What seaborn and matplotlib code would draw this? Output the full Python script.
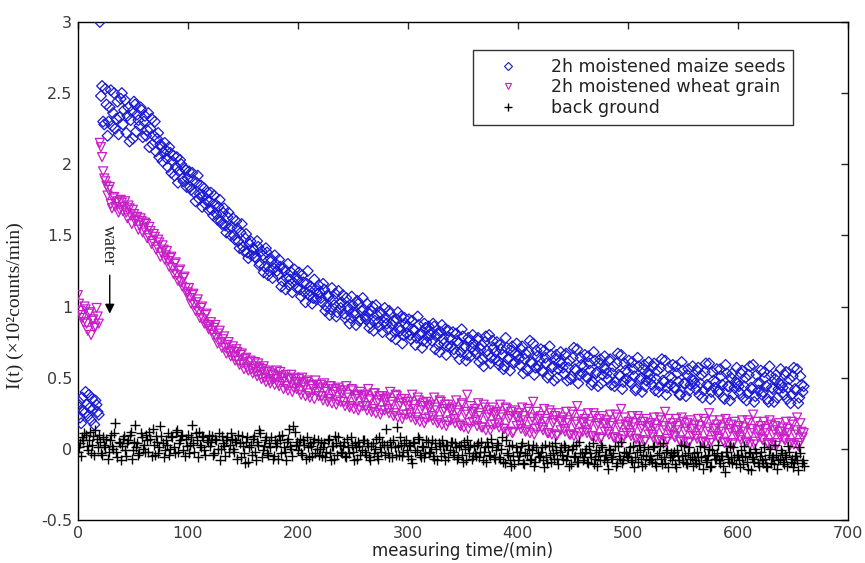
import numpy as np
import pandas as pd
import matplotlib
matplotlib.use("Agg")
import matplotlib.pyplot as plt
from matplotlib.lines import Line2D
from matplotlib.ticker import FormatStrFormatter
import seaborn as sns

# ---------------- data -------------
# readings at even minutes (0, 2, ..., 660) and odd minutes (1, 3, ..., 659)
time_even = list(range(0, 661, 2))
time_odd = list(range(1, 660, 2))

maize_even = [
    0.30, 0.22, 0.36, 0.25, 0.31, 0.38, 0.20, 0.28, 0.34, 0.26,
    3.00, 2.55, 2.28, 2.42, 2.30, 2.52, 2.36, 2.25, 2.44, 2.33,
    2.50, 2.38, 2.22, 2.40, 2.31, 2.18, 2.42, 2.35, 2.27, 2.38,
    2.30, 2.20, 2.36, 2.25, 2.14, 2.30, 2.18, 2.05, 2.12, 2.08,
    2.10, 1.98, 2.08, 2.02, 1.92, 2.05, 1.95, 2.00, 1.88, 1.96,
    1.90, 1.84, 1.94, 1.80, 1.87, 1.76, 1.85, 1.78, 1.72, 1.80,
    1.74, 1.68, 1.78, 1.65, 1.70, 1.60, 1.66, 1.57, 1.63, 1.55,
    1.56, 1.50, 1.60, 1.46, 1.52, 1.42, 1.48, 1.38, 1.44, 1.36,
    1.40, 1.34, 1.42, 1.30, 1.36, 1.28, 1.38, 1.25, 1.32, 1.27,
    1.30, 1.22, 1.28, 1.18, 1.25, 1.20, 1.15, 1.24, 1.17, 1.21,
    1.19, 1.12, 1.22, 1.10, 1.16, 1.08, 1.14, 1.06, 1.12, 1.09,
    1.10, 1.03, 1.12, 1.00, 1.07, 0.98, 1.05, 1.09, 0.96, 1.02,
    1.03, 0.95, 1.06, 0.98, 0.92, 1.01, 0.94, 1.04, 0.90, 0.97,
    0.98, 0.91, 0.96, 0.88, 1.00, 0.90, 0.94, 0.86, 0.95, 0.89,
    0.92, 0.84, 0.95, 0.87, 0.82, 0.91, 0.85, 0.93, 0.80, 0.88,
    0.86, 0.80, 0.90, 0.83, 0.78, 0.87, 0.81, 0.76, 0.85, 0.79,
    0.83, 0.76, 0.86, 0.79, 0.73, 0.82, 0.77, 0.84, 0.72, 0.78,
    0.77, 0.70, 0.81, 0.74, 0.68, 0.79, 0.72, 0.66, 0.76, 0.71,
    0.74, 0.67, 0.78, 0.70, 0.63, 0.75, 0.69, 0.80, 0.64, 0.71,
    0.68, 0.62, 0.73, 0.66, 0.58, 0.71, 0.64, 0.69, 0.60, 0.67,
    0.66, 0.59, 0.72, 0.63, 0.56, 0.68, 0.61, 0.74, 0.57, 0.65,
    0.62, 0.55, 0.69, 0.60, 0.52, 0.66, 0.58, 0.63, 0.50, 0.61,
    0.60, 0.53, 0.67, 0.57, 0.49, 0.64, 0.56, 0.70, 0.52, 0.59,
    0.58, 0.51, 0.65, 0.55, 0.47, 0.62, 0.54, 0.60, 0.46, 0.57,
    0.56, 0.49, 0.63, 0.53, 0.44, 0.60, 0.52, 0.66, 0.47, 0.55,
    0.54, 0.47, 0.61, 0.51, 0.42, 0.58, 0.50, 0.56, 0.44, 0.53,
    0.52, 0.45, 0.60, 0.49, 0.40, 0.57, 0.48, 0.62, 0.43, 0.51,
    0.50, 0.43, 0.58, 0.47, 0.38, 0.55, 0.46, 0.52, 0.41, 0.49,
    0.48, 0.42, 0.57, 0.46, 0.36, 0.54, 0.45, 0.60, 0.40, 0.48,
    0.47, 0.40, 0.56, 0.45, 0.35, 0.53, 0.44, 0.50, 0.38, 0.47,
    0.46, 0.39, 0.55, 0.44, 0.34, 0.52, 0.43, 0.59, 0.37, 0.46,
    0.46, 0.38, 0.54, 0.44, 0.33, 0.51, 0.42, 0.49, 0.36, 0.46,
    0.45, 0.38, 0.54, 0.43, 0.32, 0.51, 0.42, 0.56, 0.36, 0.45,
    0.44,
]
maize_odd = [
    0.33, 0.18, 0.27, 0.40, 0.23, 0.29, 0.35, 0.17, 0.31, 0.24,
    2.48, 2.30, 2.53, 2.20, 2.40, 2.27, 2.50, 2.32, 2.21, 2.46,
    2.28, 2.45, 2.34, 2.16, 2.37, 2.44, 2.23, 2.31, 2.40, 2.19,
    2.34, 2.24, 2.12, 2.32, 2.20, 2.09, 2.22, 2.14, 2.02, 2.15,
    2.04, 2.12, 1.94, 2.06, 1.98, 1.87, 2.03, 1.90, 1.97, 1.84,
    1.95, 1.82, 1.89, 1.74, 1.92, 1.79, 1.70, 1.83, 1.75, 1.68,
    1.80, 1.64, 1.72, 1.61, 1.75, 1.58, 1.69, 1.52, 1.66, 1.50,
    1.62, 1.47, 1.55, 1.41, 1.58, 1.39, 1.51, 1.34, 1.46, 1.41,
    1.35, 1.46, 1.29, 1.39, 1.24, 1.41, 1.22, 1.34, 1.20, 1.36,
    1.25, 1.33, 1.14, 1.27, 1.12, 1.30, 1.19, 1.10, 1.26, 1.13,
    1.24, 1.07, 1.17, 1.03, 1.25, 1.11, 1.02, 1.19, 1.05, 1.15,
    1.06, 1.16, 0.97, 1.08, 0.94, 1.13, 1.01, 0.93, 1.11, 0.99,
    1.08, 0.92, 1.00, 0.88, 1.07, 0.96, 0.87, 1.02, 0.91, 1.06,
    0.93, 1.02, 0.85, 0.97, 0.83, 1.01, 0.89, 0.96, 0.82, 0.99,
    0.88, 0.97, 0.79, 0.90, 0.77, 0.96, 0.83, 0.74, 0.92, 0.81,
    0.91, 0.77, 0.84, 0.73, 0.93, 0.80, 0.71, 0.88, 0.75, 0.86,
    0.80, 0.88, 0.70, 0.81, 0.68, 0.87, 0.74, 0.66, 0.83, 0.72,
    0.82, 0.67, 0.76, 0.63, 0.84, 0.71, 0.62, 0.78, 0.65, 0.80,
    0.69, 0.77, 0.61, 0.73, 0.58, 0.79, 0.66, 0.60, 0.76, 0.63,
    0.75, 0.59, 0.70, 0.56, 0.78, 0.63, 0.55, 0.72, 0.61, 0.74,
    0.63, 0.70, 0.53, 0.67, 0.55, 0.76, 0.60, 0.52, 0.69, 0.58,
    0.70, 0.54, 0.64, 0.50, 0.72, 0.57, 0.48, 0.66, 0.56, 0.68,
    0.57, 0.66, 0.48, 0.62, 0.51, 0.71, 0.55, 0.46, 0.64, 0.53,
    0.66, 0.50, 0.60, 0.45, 0.68, 0.53, 0.44, 0.63, 0.52, 0.65,
    0.53, 0.62, 0.45, 0.58, 0.47, 0.67, 0.51, 0.42, 0.60, 0.49,
    0.62, 0.46, 0.56, 0.41, 0.64, 0.49, 0.40, 0.59, 0.48, 0.61,
    0.49, 0.58, 0.41, 0.55, 0.44, 0.63, 0.47, 0.38, 0.57, 0.45,
    0.59, 0.43, 0.53, 0.38, 0.61, 0.46, 0.37, 0.56, 0.45, 0.58,
    0.46, 0.55, 0.38, 0.52, 0.41, 0.60, 0.44, 0.35, 0.54, 0.43,
    0.56, 0.41, 0.51, 0.36, 0.59, 0.44, 0.34, 0.53, 0.43, 0.57,
    0.44, 0.53, 0.36, 0.50, 0.39, 0.58, 0.42, 0.33, 0.52, 0.41,
    0.55, 0.40, 0.50, 0.35, 0.58, 0.43, 0.33, 0.52, 0.42, 0.56,
    0.43, 0.52, 0.35, 0.49, 0.38, 0.57, 0.41, 0.32, 0.51, 0.40,
]

wheat_even = [
    1.08, 0.97, 0.92, 1.00, 0.88, 0.95, 0.80, 0.91, 0.86, 0.93,
    2.15, 2.05, 1.90, 1.85, 1.82, 1.72, 1.76, 1.70, 1.74, 1.68,
    1.73, 1.70, 1.66, 1.71, 1.64, 1.68, 1.60, 1.63, 1.57, 1.60,
    1.55, 1.58, 1.50, 1.53, 1.46, 1.49, 1.42, 1.45, 1.38, 1.40,
    1.36, 1.32, 1.34, 1.27, 1.30, 1.22, 1.25, 1.17, 1.20, 1.13,
    1.10, 1.06, 1.08, 1.01, 1.03, 0.96, 0.99, 0.91, 0.94, 0.87,
    0.86, 0.83, 0.85, 0.78, 0.81, 0.75, 0.77, 0.71, 0.73, 0.68,
    0.69, 0.65, 0.70, 0.62, 0.66, 0.60, 0.63, 0.57, 0.61, 0.56,
    0.58, 0.54, 0.60, 0.52, 0.56, 0.50, 0.54, 0.48, 0.53, 0.49,
    0.51, 0.46, 0.54, 0.47, 0.50, 0.44, 0.49, 0.52, 0.43, 0.47,
    0.46, 0.41, 0.50, 0.43, 0.47, 0.39, 0.45, 0.42, 0.48, 0.40,
    0.43, 0.37, 0.46, 0.40, 0.35, 0.44, 0.38, 0.42, 0.34, 0.41,
    0.39, 0.33, 0.44, 0.36, 0.30, 0.41, 0.35, 0.38, 0.29, 0.37,
    0.36, 0.30, 0.42, 0.34, 0.28, 0.39, 0.32, 0.37, 0.27, 0.35,
    0.34, 0.28, 0.40, 0.31, 0.25, 0.37, 0.30, 0.35, 0.24, 0.33,
    0.30, 0.25, 0.38, 0.28, 0.22, 0.34, 0.27, 0.32, 0.21, 0.30,
    0.29, 0.23, 0.36, 0.27, 0.20, 0.33, 0.26, 0.31, 0.19, 0.28,
    0.27, 0.21, 0.34, 0.25, 0.16, 0.31, 0.24, 0.38, 0.18, 0.26,
    0.26, 0.20, 0.32, 0.23, 0.15, 0.29, 0.22, 0.27, 0.17, 0.25,
    0.24, 0.18, 0.31, 0.22, 0.14, 0.28, 0.21, 0.26, 0.12, 0.23,
    0.22, 0.17, 0.29, 0.20, 0.13, 0.26, 0.19, 0.33, 0.14, 0.21,
    0.21, 0.15, 0.28, 0.19, 0.11, 0.25, 0.18, 0.23, 0.10, 0.20,
    0.19, 0.14, 0.26, 0.18, 0.10, 0.24, 0.17, 0.30, 0.11, 0.19,
    0.18, 0.13, 0.25, 0.17, 0.09, 0.23, 0.16, 0.21, 0.08, 0.18,
    0.17, 0.12, 0.24, 0.16, 0.08, 0.22, 0.15, 0.28, 0.09, 0.17,
    0.16, 0.11, 0.23, 0.15, 0.07, 0.21, 0.14, 0.19, 0.06, 0.16,
    0.15, 0.10, 0.22, 0.14, 0.06, 0.20, 0.13, 0.26, 0.07, 0.15,
    0.15, 0.09, 0.21, 0.13, 0.05, 0.19, 0.12, 0.18, 0.05, 0.14,
    0.14, 0.09, 0.21, 0.13, 0.05, 0.19, 0.12, 0.25, 0.06, 0.14,
    0.14, 0.08, 0.20, 0.12, 0.04, 0.18, 0.11, 0.17, 0.04, 0.13,
    0.13, 0.08, 0.20, 0.12, 0.04, 0.18, 0.11, 0.24, 0.05, 0.13,
    0.13, 0.07, 0.19, 0.11, 0.03, 0.17, 0.10, 0.16, 0.04, 0.12,
    0.12, 0.07, 0.19, 0.11, 0.03, 0.17, 0.10, 0.22, 0.04, 0.12,
    0.11,
]
wheat_odd = [
    1.02, 0.94, 0.89, 0.98, 0.83, 0.96, 0.90, 0.85, 0.99, 0.88,
    2.12, 1.95, 1.88, 1.78, 1.84, 1.69, 1.77, 1.73, 1.66, 1.75,
    1.67, 1.74, 1.62, 1.69, 1.58, 1.65, 1.61, 1.54, 1.62, 1.52,
    1.59, 1.48, 1.56, 1.44, 1.51, 1.40, 1.47, 1.35, 1.43, 1.33,
    1.39, 1.28, 1.35, 1.23, 1.31, 1.18, 1.26, 1.14, 1.21, 1.09,
    1.13, 1.02, 1.09, 0.97, 1.05, 0.92, 1.00, 0.88, 0.95, 0.84,
    0.89, 0.80, 0.87, 0.74, 0.83, 0.71, 0.79, 0.67, 0.75, 0.65,
    0.72, 0.62, 0.68, 0.59, 0.67, 0.56, 0.64, 0.55, 0.62, 0.53,
    0.61, 0.51, 0.57, 0.49, 0.58, 0.47, 0.55, 0.46, 0.52, 0.45,
    0.55, 0.44, 0.51, 0.42, 0.52, 0.41, 0.49, 0.40, 0.50, 0.42,
    0.49, 0.38, 0.46, 0.37, 0.48, 0.36, 0.44, 0.35, 0.45, 0.37,
    0.45, 0.34, 0.42, 0.33, 0.44, 0.32, 0.40, 0.31, 0.43, 0.33,
    0.41, 0.30, 0.38, 0.29, 0.42, 0.28, 0.37, 0.27, 0.40, 0.30,
    0.38, 0.27, 0.35, 0.26, 0.39, 0.25, 0.34, 0.24, 0.37, 0.27,
    0.36, 0.25, 0.33, 0.23, 0.38, 0.22, 0.32, 0.21, 0.35, 0.24,
    0.33, 0.22, 0.31, 0.20, 0.36, 0.19, 0.30, 0.18, 0.33, 0.22,
    0.31, 0.20, 0.29, 0.18, 0.34, 0.17, 0.28, 0.16, 0.31, 0.20,
    0.29, 0.18, 0.27, 0.17, 0.32, 0.15, 0.26, 0.14, 0.30, 0.19,
    0.28, 0.16, 0.25, 0.15, 0.31, 0.13, 0.24, 0.13, 0.29, 0.17,
    0.26, 0.15, 0.24, 0.14, 0.29, 0.12, 0.23, 0.11, 0.27, 0.16,
    0.25, 0.14, 0.23, 0.12, 0.28, 0.11, 0.22, 0.10, 0.26, 0.15,
    0.23, 0.13, 0.21, 0.11, 0.27, 0.10, 0.20, 0.09, 0.25, 0.13,
    0.22, 0.12, 0.20, 0.10, 0.26, 0.09, 0.19, 0.08, 0.24, 0.12,
    0.21, 0.11, 0.19, 0.09, 0.25, 0.08, 0.18, 0.07, 0.23, 0.12,
    0.20, 0.10, 0.18, 0.08, 0.24, 0.07, 0.17, 0.06, 0.22, 0.11,
    0.19, 0.09, 0.18, 0.07, 0.23, 0.06, 0.16, 0.05, 0.21, 0.10,
    0.18, 0.08, 0.17, 0.06, 0.22, 0.05, 0.16, 0.05, 0.21, 0.10,
    0.18, 0.08, 0.16, 0.06, 0.22, 0.05, 0.15, 0.04, 0.20, 0.09,
    0.17, 0.07, 0.16, 0.05, 0.21, 0.04, 0.15, 0.04, 0.20, 0.09,
    0.17, 0.07, 0.15, 0.05, 0.21, 0.04, 0.14, 0.03, 0.19, 0.09,
    0.16, 0.06, 0.15, 0.05, 0.20, 0.03, 0.14, 0.03, 0.19, 0.08,
    0.16, 0.06, 0.14, 0.04, 0.20, 0.03, 0.13, 0.02, 0.18, 0.08,
    0.15, 0.06, 0.14, 0.04, 0.19, 0.03, 0.13, 0.02, 0.18, 0.08,
]

background_even = [
    -0.02, 0.04, 0.08, 0.11, 0.02, 0.06, -0.03, 0.09, 0.13, 0.01,
    0.05, -0.04, 0.03, 0.07, -0.02, 0.10, 0.00, 0.18, -0.06, 0.04,
    0.02, 0.09, -0.05, 0.06, 0.12, -0.01, 0.17, 0.04, -0.03, 0.08,
    0.03, 0.10, -0.02, 0.07, 0.14, -0.04, 0.05, 0.01, 0.09, -0.06,
    0.06, 0.11, 0.00, 0.08, -0.03, 0.13, 0.04, 0.09, -0.01, 0.07,
    0.10, 0.03, 0.17, -0.02, 0.06, 0.12, 0.01, 0.08, -0.04, 0.05,
    0.02, 0.09, -0.03, 0.06, 0.11, 0.00, 0.04, -0.05, 0.08, 0.03,
    0.07, -0.02, 0.05, 0.10, -0.06, 0.02, -0.10, 0.08, 0.01, -0.04,
    0.09, -0.08, 0.03, 0.11, -0.01, 0.06, -0.03, 0.04, 0.08, -0.05,
    0.02, -0.07, 0.06, 0.10, -0.02, 0.05, 0.14, 0.00, 0.16, 0.03,
    -0.01, 0.07, -0.04, 0.03, 0.08, -0.06, 0.02, 0.05, -0.03, 0.06,
    0.00, -0.05, 0.04, -0.02, 0.07, -0.08, 0.02, 0.09, -0.04, 0.03,
    -0.03, 0.05, -0.06, 0.01, 0.08, -0.02, 0.04, -0.07, 0.02, -0.01,
    0.06, -0.04, 0.02, -0.08, 0.04, 0.00, -0.05, 0.08, -0.02, 0.03,
    0.14, -0.03, 0.05, -0.06, 0.01, 0.15, -0.04, 0.03, -0.02, 0.06,
    -0.05, 0.02, -0.10, 0.04, -0.01, 0.07, -0.06, 0.01, -0.03, 0.05,
    -0.02, 0.06, -0.07, 0.00, 0.04, -0.05, 0.02, -0.08, 0.03, -0.01,
    0.05, -0.04, 0.01, -0.06, 0.03, -0.09, 0.00, 0.06, -0.03, -0.07,
    0.02, -0.05, 0.04, -0.02, -0.08, 0.01, 0.05, -0.04, 0.07, -0.06,
    -0.01, 0.03, -0.07, 0.08, -0.10, -0.03, 0.02, -0.12, -0.05, 0.01,
    -0.08, -0.02, 0.04, -0.11, -0.04, 0.00, -0.07, 0.03, -0.09, -0.03,
    -0.05, 0.01, -0.13, -0.06, 0.02, -0.09, -0.03, 0.04, -0.07, -0.02,
    -0.04, 0.03, -0.08, -0.01, -0.11, 0.02, -0.05, -0.09, 0.05, -0.03,
    -0.06, 0.00, -0.10, -0.03, 0.04, -0.07, -0.12, -0.02, 0.03, -0.08,
    -0.04, -0.14, -0.01, -0.07, 0.02, -0.10, -0.05, 0.05, -0.08, -0.03,
    -0.06, 0.01, -0.09, -0.13, -0.02, 0.03, -0.07, -0.04, -0.11, 0.00,
    -0.05, -0.09, 0.02, -0.12, -0.03, -0.07, 0.04, -0.10, -0.01, -0.06,
    -0.08, -0.02, -0.13, -0.05, 0.03, -0.09, -0.04, -0.11, 0.01, -0.06,
    -0.03, -0.10, -0.06, 0.02, -0.14, -0.05, -0.08, 0.00, -0.12, -0.04,
    -0.07, 0.03, -0.10, -0.05, -0.16, -0.02, -0.09, -0.06, 0.01, -0.11,
    -0.04, -0.13, -0.06, 0.02, -0.09, -0.03, -0.15, -0.07, 0.00, -0.10,
    -0.05, -0.08, 0.01, -0.12, -0.04, -0.10, -0.06, 0.03, -0.14, -0.07,
    -0.03, -0.11, -0.06, 0.02, -0.09, -0.13, -0.05, -0.08, 0.01, -0.10,
    -0.12,
]
background_odd = [
    0.01, -0.05, 0.06, 0.10, -0.01, 0.12, 0.03, -0.04, 0.07, 0.10,
    -0.03, 0.08, 0.01, -0.07, 0.06, 0.02, 0.11, -0.02, 0.05, -0.08,
    0.07, -0.01, 0.04, 0.10, -0.07, 0.05, 0.01, -0.04, 0.11, 0.00,
    -0.02, 0.06, 0.12, -0.05, 0.03, 0.09, -0.03, 0.16, 0.04, -0.01,
    0.03, -0.04, 0.09, 0.01, 0.12, -0.02, 0.06, 0.10, -0.05, 0.02,
    -0.03, 0.08, 0.04, 0.11, -0.06, 0.03, 0.09, -0.01, 0.06, 0.10,
    0.05, -0.04, 0.07, 0.00, -0.08, 0.09, 0.02, 0.06, -0.02, 0.11,
    0.00, 0.06, -0.07, 0.04, 0.09, -0.03, 0.05, -0.09, 0.03, 0.07,
    -0.02, 0.05, 0.13, -0.06, 0.02, 0.08, -0.04, 0.01, -0.07, 0.06,
    0.04, 0.09, -0.03, 0.01, -0.08, 0.07, 0.02, -0.05, 0.12, 0.05,
    0.03, -0.03, 0.06, -0.07, 0.01, 0.04, -0.05, 0.07, 0.00, -0.04,
    0.05, 0.01, -0.06, 0.06, -0.03, 0.02, -0.07, 0.04, 0.08, -0.02,
    0.02, -0.05, 0.07, -0.03, 0.03, -0.08, 0.01, 0.05, -0.04, 0.06,
    -0.02, 0.04, -0.06, 0.02, -0.03, 0.07, -0.07, 0.01, 0.05, -0.04,
    0.03, -0.06, 0.01, 0.06, -0.04, 0.02, 0.08, -0.05, 0.04, -0.01,
    0.03, -0.07, 0.05, -0.02, 0.08, -0.04, 0.02, -0.06, 0.06, -0.03,
    0.01, -0.05, 0.04, -0.08, 0.02, 0.06, -0.03, 0.03, -0.06, 0.05,
    -0.02, 0.04, -0.07, 0.02, -0.04, 0.05, -0.08, 0.01, 0.03, -0.05,
    -0.03, 0.03, -0.06, 0.05, -0.02, -0.09, 0.02, -0.05, 0.01, -0.07,
    0.04, -0.06, 0.00, -0.09, 0.06, -0.04, -0.08, 0.03, -0.11, -0.02,
    -0.05, 0.02, -0.10, -0.03, 0.03, -0.08, -0.01, -0.12, 0.01, -0.06,
    -0.02, -0.08, 0.03, -0.10, -0.04, 0.02, -0.07, -0.01, -0.11, 0.01,
    -0.07, 0.01, -0.05, -0.12, 0.00, -0.06, 0.03, -0.09, -0.03, -0.08,
    -0.02, -0.09, 0.02, -0.06, -0.11, -0.01, -0.05, -0.08, 0.01, -0.04,
    -0.09, 0.00, -0.06, -0.03, -0.12, 0.02, -0.07, -0.10, -0.02, -0.05,
    -0.03, -0.08, 0.02, -0.06, -0.09, -0.01, -0.12, 0.01, -0.05, -0.08,
    -0.07, 0.01, -0.10, -0.04, 0.02, -0.11, -0.06, -0.02, -0.13, -0.03,
    -0.04, -0.11, -0.01, -0.08, -0.05, 0.02, -0.10, -0.03, -0.07, -0.12,
    -0.08, -0.02, -0.11, -0.06, 0.01, -0.09, -0.04, -0.13, -0.01, -0.07,
    -0.03, -0.08, -0.05, -0.12, -0.02, -0.07, 0.02, -0.10, -0.06, -0.04,
    -0.08, -0.01, -0.11, -0.05, -0.14, -0.02, -0.06, -0.09, -0.03, -0.12,
    -0.02, -0.10, -0.07, -0.13, 0.00, -0.06, -0.11, -0.04, -0.08, -0.01,
    -0.09, -0.04, -0.12, -0.02, -0.07, -0.10, -0.05, -0.15, -0.03, -0.08,
]

series_labels = ["2h moistened maize seeds", "2h moistened wheat grain", "back ground"]
x_ticks = [0, 100, 200, 300, 400, 500, 600, 700]
y_ticks = [-0.5, 0, 0.5, 1, 1.5, 2, 2.5, 3]

# ---------------- figure -------------
sns.set_style("white")
plt.rcParams["font.family"] = ["DejaVu Sans"]

fig = plt.figure(figsize=(8.65, 5.63), dpi=100)
ax = fig.add_axes([0.090, 0.0764, 0.890, 0.8846])

blue = "#1a1ad2"
magenta = "#c81ec8"

df = pd.DataFrame({
    "t": time_even + time_odd,
    "maize": maize_even + maize_odd,
    "wheat": wheat_even + wheat_odd,
    "bg": background_even + background_odd,
}).sort_values("t")

sns.scatterplot(data=df, x="t", y="maize", marker="D", s=30, facecolor="none",
                edgecolor=blue, linewidth=0.9, ax=ax, legend=False, zorder=3)
sns.scatterplot(data=df, x="t", y="wheat", marker="v", s=42, facecolor="none",
                edgecolor=magenta, linewidth=0.9, ax=ax, legend=False, zorder=3)
sns.scatterplot(data=df, x="t", y="bg", marker="+", s=60, color="black",
                linewidth=1.0, ax=ax, legend=False, zorder=3)

ax.set_xlim(0, 700)
ax.set_ylim(-0.5, 3)
ax.set_xticks(x_ticks)
ax.set_yticks(y_ticks)
ax.yaxis.set_major_formatter(FormatStrFormatter("%g"))
ax.tick_params(direction="in", length=5, width=1, top=True, right=True,
               labelsize=11.5, labelcolor="#3a3a3a", pad=4)
for sp in ax.spines.values():
    sp.set_visible(True)
    sp.set_color("black")
    sp.set_linewidth(1.0)

ax.set_xlabel("measuring time/(min)", fontsize=12, labelpad=1, color="#222222")
ax.set_ylabel("I(t) (×10²counts/min)", fontsize=14,
              family=["Liberation Serif", "DejaVu Serif"], color="#222222")
ax.yaxis.set_label_coords(-0.070, 0.43)

# water annotation
ax.text(28, 1.57, "water", rotation=-90, ha="center", va="top", fontsize=13,
        family=["Liberation Serif", "DejaVu Serif"])
ax.annotate("", xy=(29, 0.95), xytext=(29, 1.22),
            arrowprops=dict(arrowstyle="-|>", color="black", lw=1.0,
                            mutation_scale=14, shrinkA=0, shrinkB=0))

handles = [
    Line2D([], [], ls="none", marker="D", ms=4, mfc="none", mec=blue, mew=0.8),
    Line2D([], [], ls="none", marker="v", ms=5, mfc="none", mec=magenta, mew=0.8),
    Line2D([], [], ls="none", marker="+", ms=6, color="black", mew=1.0),
]
leg = ax.legend(handles, series_labels, loc="upper right",
                bbox_to_anchor=(0.929, 0.944), borderaxespad=0, fontsize=12.5,
                frameon=True, fancybox=False, edgecolor="black",
                handlelength=3.2, handletextpad=0.85, borderpad=0.45,
                labelspacing=0.15)
leg.get_frame().set_linewidth(1.0)
for txt in leg.get_texts():
    txt.set_color("#222222")

fig.savefig("out.png", dpi=100)
